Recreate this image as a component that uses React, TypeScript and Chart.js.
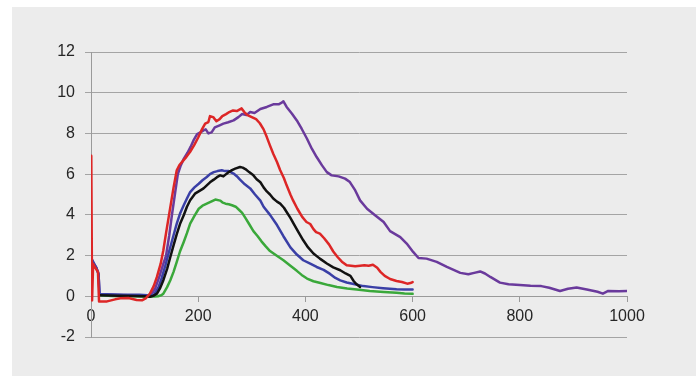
import React, { useEffect, useRef } from "react";
import { Chart, registerables } from "chart.js";

Chart.register(...registerables);

const xTicks = [0, 200, 400, 600, 800, 1000];
const yTicks = [-2, 0, 2, 4, 6, 8, 10, 12];

const redPts: [number, number][] = [
  [0, -0.2], [0.5, 6.9], [2, -0.2], [4, 1.6], [8, 1.4], [13, 1.2], [15, -0.25],
  [30, -0.25], [45, -0.15], [55, -0.1], [70, -0.08], [85, -0.18], [95, -0.2], [102, -0.1],
  [110, 0.13], [117, 0.5], [123, 0.95], [130, 1.6], [135, 2.26], [140, 3.1], [145, 3.9],
  [150, 4.7], [154, 5.34], [160, 6.19], [165, 6.45], [170, 6.6], [178, 6.85], [185, 7.1],
  [193, 7.45], [200, 7.8], [207, 8.2], [213, 8.48], [219, 8.56], [222, 8.85], [228, 8.8],
  [234, 8.6], [240, 8.7], [245, 8.85], [252, 8.95], [258, 9.05], [265, 9.13], [272, 9.1],
  [281, 9.23], [286, 9.05], [292, 8.9], [300, 8.8], [308, 8.7], [315, 8.5], [322, 8.2],
  [328, 7.82], [334, 7.4], [340, 7.0], [347, 6.6], [353, 6.19], [360, 5.8], [365, 5.45],
  [372, 5.0], [377, 4.71], [385, 4.3], [394, 3.9], [402, 3.65], [409, 3.55], [415, 3.3],
  [420, 3.15], [427, 3.08], [435, 2.85], [444, 2.55], [452, 2.2], [460, 1.93], [468, 1.7],
  [477, 1.52], [485, 1.5], [493, 1.47], [502, 1.5], [510, 1.52], [518, 1.5], [526, 1.55],
  [534, 1.4], [540, 1.2], [548, 1.0], [558, 0.85], [570, 0.75], [580, 0.7], [590, 0.62],
  [596, 0.65], [600, 0.7],
];

const purplePts: [number, number][] = [
  [1, 1.8], [5, 1.6], [10, 1.4], [14, 1.1], [16, 0.1], [30, 0.08], [50, 0.06], [70, 0.05],
  [90, 0.02], [105, 0.0], [113, 0.1], [120, 0.4], [128, 1.0], [135, 1.6], [140, 2.0],
  [146, 3.0], [151, 4.0], [157, 5.1], [162, 6.0], [167, 6.4], [173, 6.75], [180, 7.05],
  [186, 7.35], [192, 7.7], [198, 7.97], [204, 8.05], [210, 8.15], [214, 8.2], [219, 8.0],
  [225, 8.05], [231, 8.3], [240, 8.4], [247, 8.48], [256, 8.55], [266, 8.64], [275, 8.8],
  [282, 8.95], [290, 8.9], [297, 9.05], [305, 9.0], [316, 9.2], [328, 9.3], [340, 9.43],
  [350, 9.43], [355, 9.5], [359, 9.58], [365, 9.3], [375, 8.97], [384, 8.64], [393, 8.23],
  [403, 7.74], [412, 7.25], [421, 6.84], [431, 6.43], [440, 6.1], [449, 5.94], [462, 5.89],
  [474, 5.78], [483, 5.61], [493, 5.2], [502, 4.71], [515, 4.3], [530, 3.98], [546, 3.65],
  [558, 3.2], [577, 2.91], [589, 2.59], [601, 2.18], [611, 1.88], [626, 1.85], [645, 1.69],
  [664, 1.44], [689, 1.15], [704, 1.08], [715, 1.15], [726, 1.22], [735, 1.12], [745, 0.95],
  [763, 0.67], [779, 0.59], [800, 0.56], [820, 0.52], [840, 0.5], [855, 0.42], [875, 0.26],
  [890, 0.37], [906, 0.43], [925, 0.33], [945, 0.22], [955, 0.13], [965, 0.26], [985, 0.25],
  [1000, 0.26],
];

const blackPts: [number, number][] = [
  [16, 0.05], [50, 0.03], [80, 0.02], [100, 0.0], [110, -0.02], [116, 0.02], [123, 0.13],
  [129, 0.4], [135, 0.79], [142, 1.35], [148, 1.93], [154, 2.5], [160, 3.05], [166, 3.55],
  [173, 3.98], [179, 4.4], [185, 4.72], [194, 5.04], [204, 5.2], [210, 5.3], [216, 5.45],
  [222, 5.6], [229, 5.73], [235, 5.85], [241, 5.94], [247, 5.89], [252, 6.0], [257, 6.1],
  [263, 6.2], [269, 6.27], [278, 6.35], [283, 6.32], [288, 6.25], [295, 6.1], [303, 5.94],
  [309, 5.75], [316, 5.6], [322, 5.35], [328, 5.15], [334, 5.0], [340, 4.8], [347, 4.65],
  [353, 4.55], [360, 4.35], [365, 4.14], [372, 3.85], [378, 3.57], [387, 3.15], [396, 2.75],
  [405, 2.4], [415, 2.1], [427, 1.85], [440, 1.61], [452, 1.42], [465, 1.28], [475, 1.12],
  [484, 1.0], [490, 0.75], [495, 0.6], [502, 0.46],
];

const bluePts: [number, number][] = [
  [2, 1.8], [6, 1.6], [10, 1.4], [14, 1.1], [16, 0.1], [30, 0.1], [60, 0.08], [90, 0.08],
  [105, 0.05], [117, 0.05], [126, 0.45], [132, 0.9], [138, 1.44], [148, 2.42], [154, 3.0],
  [160, 3.57], [166, 4.05], [173, 4.47], [179, 4.8], [185, 5.12], [193, 5.35], [201, 5.53],
  [208, 5.7], [216, 5.86], [222, 6.0], [229, 6.1], [236, 6.15], [244, 6.19], [250, 6.15],
  [257, 6.15], [266, 6.03], [272, 5.9], [278, 5.73], [287, 5.5], [297, 5.3], [306, 5.0],
  [316, 4.7], [322, 4.4], [334, 4.0], [347, 3.5], [359, 2.95], [372, 2.4], [384, 2.05],
  [396, 1.77], [409, 1.6], [421, 1.44], [434, 1.3], [446, 1.1], [456, 0.9], [465, 0.78],
  [477, 0.68], [490, 0.6], [508, 0.5], [525, 0.45], [545, 0.4], [570, 0.35], [585, 0.33],
  [600, 0.33],
];

const greenPts: [number, number][] = [
  [16, 0.05], [40, 0.02], [80, 0.0], [110, -0.02], [125, 0.0], [131, 0.05], [135, 0.13],
  [142, 0.45], [148, 0.79], [154, 1.2], [160, 1.69], [166, 2.2], [173, 2.67], [179, 3.1],
  [185, 3.57], [193, 3.95], [201, 4.3], [208, 4.45], [216, 4.55], [224, 4.65], [232, 4.75],
  [241, 4.7], [246, 4.6], [251, 4.55], [257, 4.52], [263, 4.47], [270, 4.4], [276, 4.25],
  [282, 4.1], [288, 3.85], [295, 3.55], [303, 3.2], [311, 2.95], [318, 2.7], [326, 2.45],
  [334, 2.22], [346, 2.0], [359, 1.77], [372, 1.5], [384, 1.25], [393, 1.05], [403, 0.87],
  [415, 0.74], [428, 0.65], [443, 0.55], [459, 0.46], [478, 0.38], [496, 0.33], [520, 0.26],
  [546, 0.21], [570, 0.17], [585, 0.14], [600, 0.12],
];

const FONT = "'Liberation Sans', Arial, sans-serif";

export default function App() {
  const ref = useRef<HTMLCanvasElement>(null);

  useEffect(() => {
    if (!ref.current) return;
    const bg = {
      id: "bg",
      beforeDraw(chart: any) {
        const { ctx, width, height } = chart;
        ctx.save();
        ctx.fillStyle = "#ffffff";
        ctx.fillRect(0, 0, width, height);
        ctx.fillStyle = "#ececec";
        ctx.fillRect(12, 7, width - 12, height - 7);
        ctx.restore();
      },
    };
    const toData = (pts: [number, number][]) => pts.map(([x, y]) => ({ x, y }));
    const mk = (label: string, pts: [number, number][], color: string, order: number) => ({
      label,
      data: toData(pts),
      borderColor: color,
      backgroundColor: color,
      borderWidth: 2.5,
      pointRadius: 0,
      tension: 0,
      fill: false,
      order,
      borderJoinStyle: "round" as const,
      borderCapStyle: "round" as const,
    });
    const chart = new Chart(ref.current, {
      type: "line",
      data: {
        datasets: [
          mk("red", redPts, "#dd2626", 0),
          mk("black", blackPts, "#111111", 1),
          mk("blue", bluePts, "#3a3fa6", 2),
          mk("green", greenPts, "#3aa83a", 3),
          mk("purple", purplePts, "#6a3a9c", 4),
        ],
      },
      options: {
        responsive: false,
        animation: false,
        layout: { padding: { left: 0, top: 52, right: 69, bottom: 39 } },
        plugins: { legend: { display: false }, tooltip: { enabled: false } },
        scales: {
          x: {
            type: "linear",
            min: 0,
            max: 1000,
            position: { y: 0 } as any,
            afterBuildTicks: (s: any) => {
              s.ticks = xTicks.map((v) => ({ value: v }));
            },
            ticks: {
              padding: 6,
              maxRotation: 0,
              color: "#262626",
              font: { size: 16, family: FONT },
              callback: (v: any) => String(v),
            },
            grid: { drawOnChartArea: false, drawTicks: true, tickLength: 5, color: "#9a9a9a" },
            border: { display: true, color: "#9a9a9a" },
          },
          y: {
            type: "linear",
            min: -2,
            max: 12,
            afterBuildTicks: (s: any) => {
              s.ticks = yTicks.map((v) => ({ value: v }));
            },
            afterFit: (s: any) => {
              s.width = 91;
            },
            ticks: {
              padding: 10,
              color: "#262626",
              font: { size: 16, family: FONT },
              callback: (v: any) => String(v),
            },
            grid: { color: "#a4a4a4", tickLength: 6 },
            border: { display: true, color: "#9a9a9a" },
          },
        },
      },
      plugins: [bg],
    });
    return () => chart.destroy();
  }, []);

  return (
    <div style={{ position: "fixed", left: 0, top: 0, width: 696, height: 376 }}>
      <canvas ref={ref} width={696} height={376} style={{ display: "block" }} />
    </div>
  );
}
